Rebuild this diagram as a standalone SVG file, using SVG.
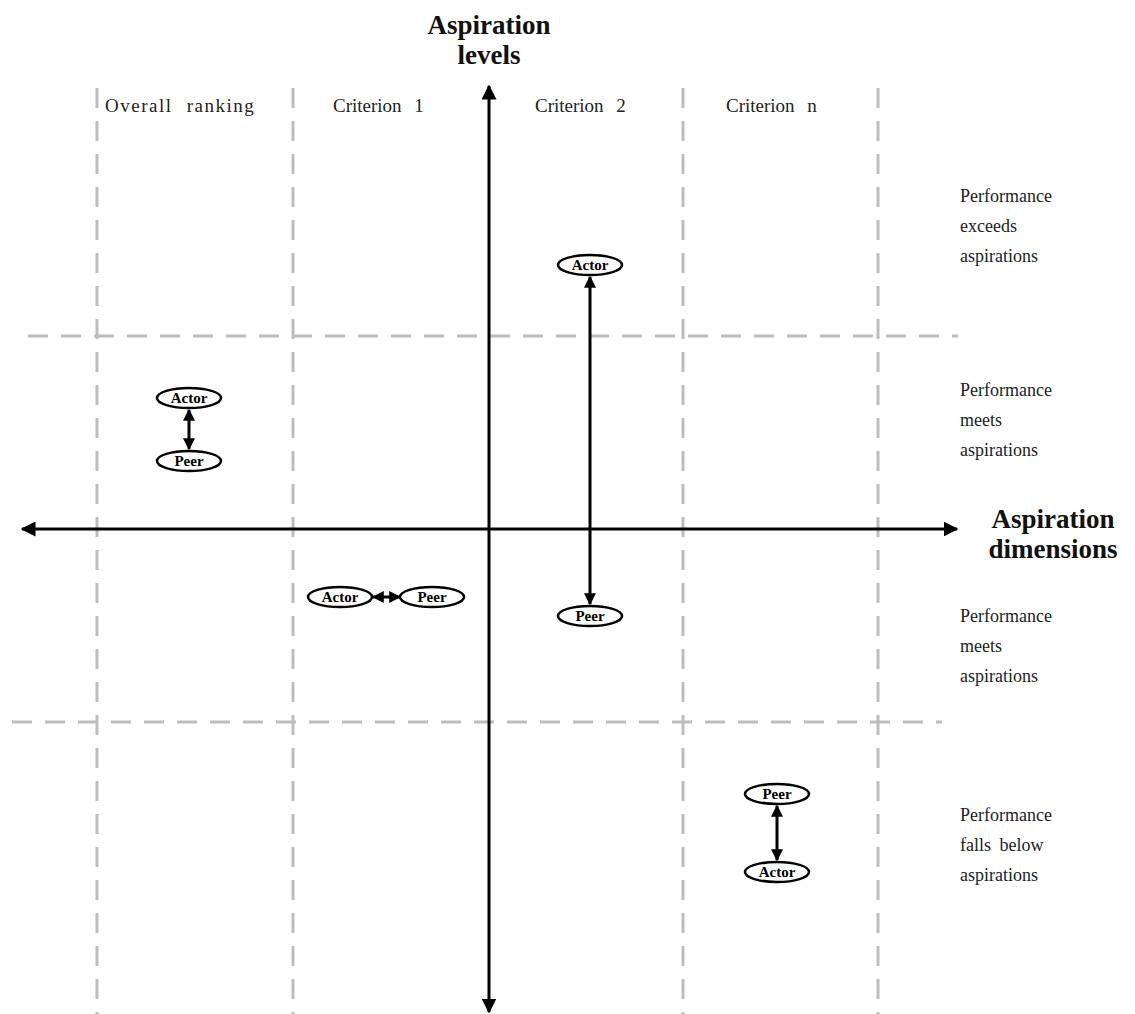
<svg xmlns="http://www.w3.org/2000/svg" width="1135" height="1014" viewBox="0 0 1135 1014">
<style>
.grid{stroke:#bdbdbd;stroke-width:3;stroke-dasharray:20 13;fill:none}
.axis{stroke:#000;stroke-width:3;fill:none}
.link{stroke:#000;stroke-width:3;fill:none}
.node ellipse{fill:#fff;stroke:#000;stroke-width:2.5}
.node text{font-family:"Liberation Serif",serif;font-weight:bold;font-size:15px;text-anchor:middle}
.hdr{font-family:"Liberation Serif",serif;font-size:19px;fill:#222;word-spacing:8px}
.lbl{font-family:"Liberation Serif",serif;font-size:18px;fill:#222}
.ttl{font-family:"Liberation Serif",serif;font-size:27px;font-weight:bold;text-anchor:middle;fill:#111}
</style>
<defs>
<marker id="ah" viewBox="0 0 10 10" refX="9" refY="5" markerWidth="5" markerHeight="5" orient="auto-start-reverse" markerUnits="strokeWidth">
<path d="M0,0 L10,5 L0,10 z" fill="#000"/>
</marker>
<marker id="sh" viewBox="0 0 10 10" refX="9" refY="5" markerWidth="4" markerHeight="4" orient="auto-start-reverse" markerUnits="strokeWidth">
<path d="M0,0 L10,5 L0,10 z" fill="#000"/>
</marker>
</defs>
<rect width="1135" height="1014" fill="#fff"/>
<g id="grid">
<line class="grid" x1="97" y1="88" x2="97" y2="1014"/>
<line class="grid" x1="293" y1="88" x2="293" y2="1014"/>
<line class="grid" x1="683" y1="88" x2="683" y2="1014"/>
<line class="grid" x1="878" y1="88" x2="878" y2="1014"/>
<line class="grid" x1="28" y1="336" x2="958" y2="336" stroke-dasharray="19 13"/>
<line class="grid" x1="12" y1="722" x2="942" y2="722" stroke-dasharray="19 13"/>
</g>
<g id="axes">
<line class="axis" x1="489" y1="1012" x2="489" y2="86" marker-end="url(#ah)" marker-start="url(#ah)"/>
<line class="axis" x1="22" y1="529" x2="957" y2="529" marker-end="url(#ah)" marker-start="url(#ah)"/>
</g>
<g id="titles">
<text class="ttl" x="489" y="34">Aspiration</text>
<text class="ttl" x="489" y="64">levels</text>
<text class="ttl" x="1053" y="528">Aspiration</text>
<text class="ttl" x="1053" y="558">dimensions</text>
</g>
<g id="headers">
<text class="hdr" x="105" y="112" letter-spacing="1.5">Overall ranking</text>
<text class="hdr" x="333" y="112">Criterion 1</text>
<text class="hdr" x="535" y="112">Criterion 2</text>
<text class="hdr" x="726" y="112">Criterion n</text>
</g>
<g id="row-labels">
<text class="lbl" x="960" y="202">Performance</text>
<text class="lbl" x="960" y="232">exceeds</text>
<text class="lbl" x="960" y="262">aspirations</text>
<text class="lbl" x="960" y="396">Performance</text>
<text class="lbl" x="960" y="426">meets</text>
<text class="lbl" x="960" y="456">aspirations</text>
<text class="lbl" x="960" y="622">Performance</text>
<text class="lbl" x="960" y="652">meets</text>
<text class="lbl" x="960" y="682">aspirations</text>
<text class="lbl" x="960" y="821">Performance</text>
<text class="lbl" x="960" y="851" word-spacing="4">falls below</text>
<text class="lbl" x="960" y="881">aspirations</text>
</g>
<g id="connectors">
<line class="link" x1="189" y1="410" x2="189" y2="449" marker-start="url(#sh)" marker-end="url(#sh)"/>
<line class="link" x1="373" y1="597" x2="400" y2="597" marker-start="url(#sh)" marker-end="url(#sh)"/>
<line class="link" x1="590" y1="277" x2="590" y2="604" marker-start="url(#sh)" marker-end="url(#sh)"/>
<line class="link" x1="777" y1="806" x2="777" y2="860" marker-start="url(#sh)" marker-end="url(#sh)"/>
</g>
<g id="overall-actor" class="node"><ellipse cx="189" cy="398" rx="32" ry="10"/><text x="189" y="403">Actor</text></g>
<g id="overall-peer" class="node"><ellipse cx="189" cy="461" rx="32" ry="10"/><text x="189" y="466">Peer</text></g>
<g id="c1-actor" class="node"><ellipse cx="340" cy="597" rx="32" ry="10"/><text x="340" y="602">Actor</text></g>
<g id="c1-peer" class="node"><ellipse cx="432" cy="597" rx="32" ry="10"/><text x="432" y="602">Peer</text></g>
<g id="c2-actor" class="node"><ellipse cx="590" cy="265" rx="32" ry="10"/><text x="590" y="270">Actor</text></g>
<g id="c2-peer" class="node"><ellipse cx="590" cy="616" rx="32" ry="10"/><text x="590" y="621">Peer</text></g>
<g id="cn-peer" class="node"><ellipse cx="777" cy="794" rx="32" ry="10"/><text x="777" y="799">Peer</text></g>
<g id="cn-actor" class="node"><ellipse cx="777" cy="872" rx="32" ry="10"/><text x="777" y="877">Actor</text></g>
</svg>
